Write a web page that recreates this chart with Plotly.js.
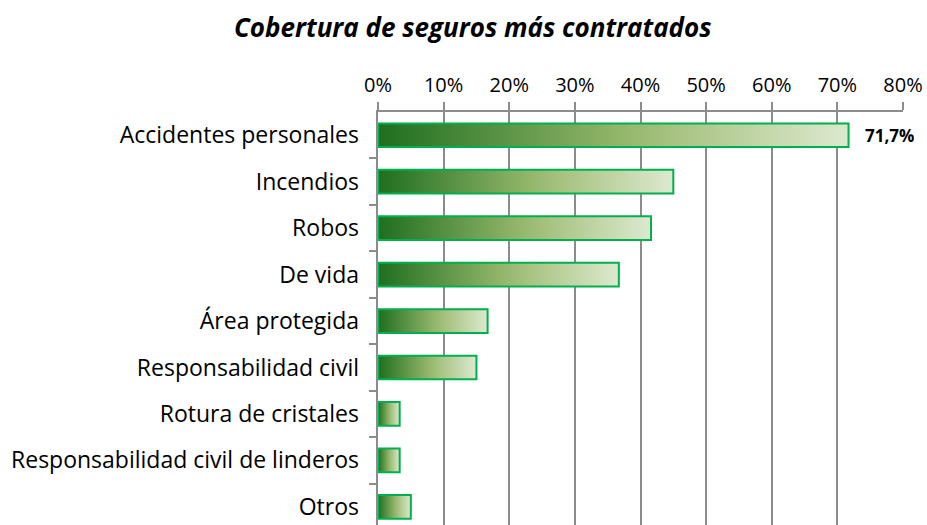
<!DOCTYPE html>
<html>
<head>
<meta charset="utf-8">
<script src="https://cdn.plot.ly/plotly-3.0.1.min.js"></script>
<style>html,body{margin:0;padding:0;background:#fff;}#chart{width:927px;height:525px;}</style>
</head>
<body>
<div id="chart"></div>
<script>
var categories = ["Accidentes personales","Incendios","Robos","De vida","Área protegida","Responsabilidad civil","Rotura de cristales","Responsabilidad civil de linderos","Otros"];
var values = [71.7, 45.0, 41.6, 36.7, 16.7, 15.0, 3.3, 3.3, 5.0];
var labels = ["71,7%", "", "", "", "", "", "", "", ""];
var xTicks = [0,10,20,30,40,50,60,70,80];
var xTickText = ["0%","10%","20%","30%","40%","50%","60%","70%","80%"];

var idx = categories.map(function(_, i){ return i; });
var half = 0.255;
var fontFam = "'Open Sans', Lato, sans-serif";

var traces = [];
values.forEach(function(v, i){
  traces.push({
    type: 'scatter', mode: 'lines',
    x: [0, v, v, 0, 0],
    y: [i-half, i-half, i+half, i+half, i-half],
    fill: 'toself',
    fillgradient: {type: 'horizontal', colorscale: [[0,'#1f6e1f'],[0.5,'#90b468'],[0.62,'#a6c280'],[1,'#dde9cf']]},
    line: {width: 0},
    hoverinfo: 'skip', showlegend: false,
    xaxis: 'x', yaxis: 'y'
  });
});
traces.push({
  type: 'bar', orientation: 'h',
  x: values, y: idx,
  width: 0.51,
  marker: {color: 'rgba(0,0,0,0)', line: {color: '#00b050', width: 2}},
  showlegend: false, hoverinfo: 'x',
  xaxis: 'x', yaxis: 'y2'
});

var annotations = [];
labels.forEach(function(t, i){
  if (!t) return;
  annotations.push({
    x: values[i], y: i, xref: 'x', yref: 'y', text: '<b>' + t + '</b>',
    showarrow: false, xanchor: 'left', yanchor: 'middle', xshift: 14,
    font: {family: fontFam, size: 17, color: '#000'}
  });
});

var yr = [8.39, -0.5];
var layout = {
  width: 927, height: 525,
  margin: {l: 378, r: 24, t: 112, b: 0},
  paper_bgcolor: '#fff', plot_bgcolor: '#fff',
  title: {text: '<b><i>Cobertura de seguros más contratados</i></b>', x: 0.51, xanchor: 'center', y: 0.947, yanchor: 'middle',
    font: {family: fontFam, size: 26, color: '#000'}},
  xaxis: {
    side: 'top', range: [0, 80], tickvals: xTicks, ticktext: xTickText,
    showgrid: true, gridcolor: '#8c8c8c', gridwidth: 2,
    showline: true, linecolor: '#8c8c8c', linewidth: 2,
    ticks: 'outside', ticklen: 8, tickcolor: '#8c8c8c', tickwidth: 2,
    tickfont: {family: fontFam, size: 20, color: '#000'},
    ticklabelstandoff: 2,
    zeroline: false, fixedrange: true
  },
  yaxis: {
    range: yr, autorange: false,
    tickvals: idx, ticktext: categories, ticks: '',
    showgrid: false, zeroline: false, showline: false,
    tickfont: {family: fontFam, size: 23, color: '#000'},
    ticklabelstandoff: 18, fixedrange: true
  },
  yaxis2: {
    overlaying: 'y', side: 'left', range: yr, autorange: false,
    tickvals: [0.5,1.5,2.5,3.5,4.5,5.5,6.5,7.5], ticktext: ["","","","","","","",""],
    ticks: 'outside', ticklen: 7, tickcolor: '#8c8c8c', tickwidth: 2,
    showline: true, linecolor: '#8c8c8c', linewidth: 2,
    showgrid: false, zeroline: false, fixedrange: true
  },
  annotations: annotations,
  bargap: 0.49
};
Plotly.newPlot('chart', traces, layout, {displayModeBar: false, staticPlot: true});
</script>
</body>
</html>
